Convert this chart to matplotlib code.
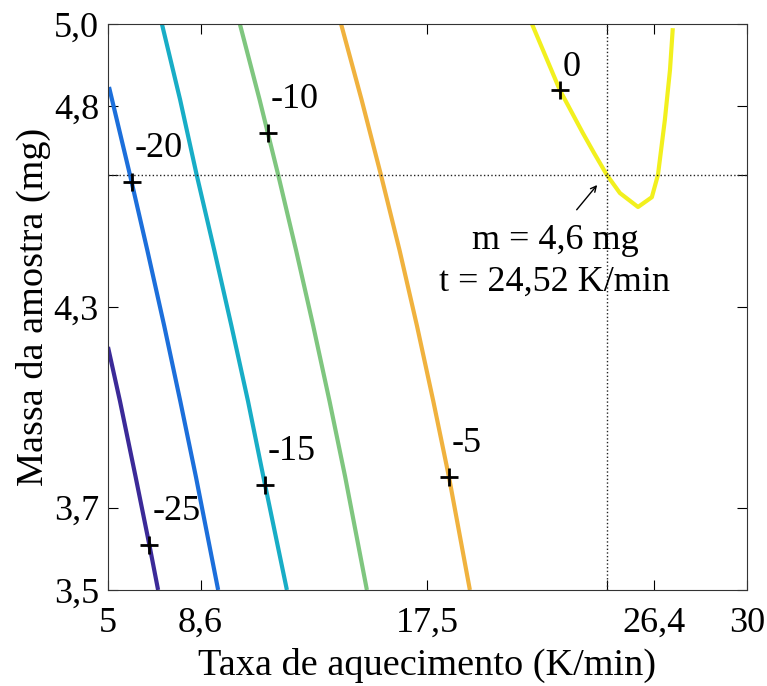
import matplotlib.pyplot as plt

# contour lines: (x = taxa, y = massa)
levels = [-25, -20, -15, -10, -5, 0]
colors = ['#3b2a98', '#1c6fdb', '#18adc6', '#7fc67f', '#f0b23e', '#f2f01e']

x_m25 = [5.00, 5.47, 6.08, 6.62, 6.96]
y_m25 = [4.144, 4.0, 3.8, 3.619, 3.5]
x_m20 = [5.04, 5.86, 6.54, 7.20, 7.83, 8.44, 9.31]
y_m20 = [4.833, 4.6, 4.4, 4.2, 4.0, 3.8, 3.5]
x_m15 = [7.11, 7.82, 8.47, 9.16, 9.83, 10.48, 11.08, 12.00]
y_m15 = [5.0, 4.8, 4.6, 4.4, 4.2, 4.0, 3.8, 3.5]
x_m10 = [10.16, 10.93, 11.66, 12.36, 13.03, 13.67, 14.28, 15.13]
y_m10 = [5.0, 4.8, 4.6, 4.4, 4.2, 4.0, 3.8, 3.5]
x_m5 = [14.12, 14.92, 15.68, 16.41, 17.09, 17.73, 18.34, 19.16]
y_m5 = [5.0, 4.8, 4.6, 4.4, 4.2, 4.0, 3.8, 3.5]
x_0 = [21.59, 22.68, 23.58, 24.02, 24.52, 25.03, 25.74, 26.28, 26.52, 26.79, 26.99, 27.10]
y_0 = [5.0, 4.825, 4.711, 4.658, 4.600, 4.552, 4.515, 4.541, 4.600, 4.746, 4.878, 4.989]

xs = [x_m25, x_m20, x_m15, x_m10, x_m5, x_0]
ys = [y_m25, y_m20, y_m15, y_m10, y_m5, y_0]

# label markers
mark_x = [6.62, 5.92, 11.15, 11.25, 18.34, 22.68]
mark_y = [3.619, 4.581, 3.778, 4.711, 3.8, 4.825]
mark_txt = ['-25', '-20', '-15', '-10', '-5', '0']

opt_x = 24.52
opt_y = 4.6

xticks = [5, 8.62, 17.5, 24.52, 26.38, 30]
xtick_labels = ['5', '8,6', '17,5', '', '26,4', '30']
yticks = [3.5, 3.718, 4.25, 4.6, 4.782, 5.0]
ytick_labels = ['3,5', '3,7', '4,3', '', '4,8', '5,0']

plt.rcParams['font.family'] = ['Liberation Serif', 'DejaVu Serif']

fig = plt.figure(figsize=(7.67, 6.86), dpi=100)
ax = fig.add_axes([0.1408, 0.140, 0.833, 0.825])

for x, y, c in zip(xs, ys, colors):
    ax.plot(x, y, color=c, lw=3, solid_capstyle='butt', solid_joinstyle='round')

ax.axvline(opt_x, color='#222222', ls=':', lw=1)
ax.axhline(opt_y, color='#222222', ls=':', lw=1)

for mx, my, t in zip(mark_x, mark_y, mark_txt):
    ax.plot(mx, my, marker='+', color='k', ms=13, mew=2)
    dy = 16 if t == '0' else 24
    ax.annotate(t, (mx, my), xytext=(2, dy), textcoords='offset points',
                ha='left', va='center', fontsize=26)

ax.annotate('', xy=(24.21, 4.579), xytext=(23.27, 4.502),
            arrowprops=dict(arrowstyle='->', color='k', lw=1))
ax.text(22.49, 4.427, 'm = 4,6 mg', ha='center', va='center', fontsize=26)
ax.text(22.49, 4.316, 't = 24,52 K/min', ha='center', va='center', fontsize=26)

ax.set_xlim(5, 30)
ax.set_ylim(3.5, 5.0)
ax.set_xticks(xticks)
ax.set_xticklabels(xtick_labels)
ax.set_yticks(yticks)
ax.set_yticklabels(ytick_labels)
ax.tick_params(direction='in', length=7, width=0.8, top=True, right=True,
               labelsize=26)
ax.tick_params(axis='x', pad=12)
ax.tick_params(axis='y', pad=6.5)
for s in ax.spines.values():
    s.set_linewidth(0.8)
    s.set_color('#333333')

ax.set_xlabel('Taxa de aquecimento (K/min)', fontsize=27.5, labelpad=6)
ax.set_ylabel('Massa da amostra (mg)', fontsize=27.5, labelpad=2)

fig.savefig('out.png', dpi=100)
